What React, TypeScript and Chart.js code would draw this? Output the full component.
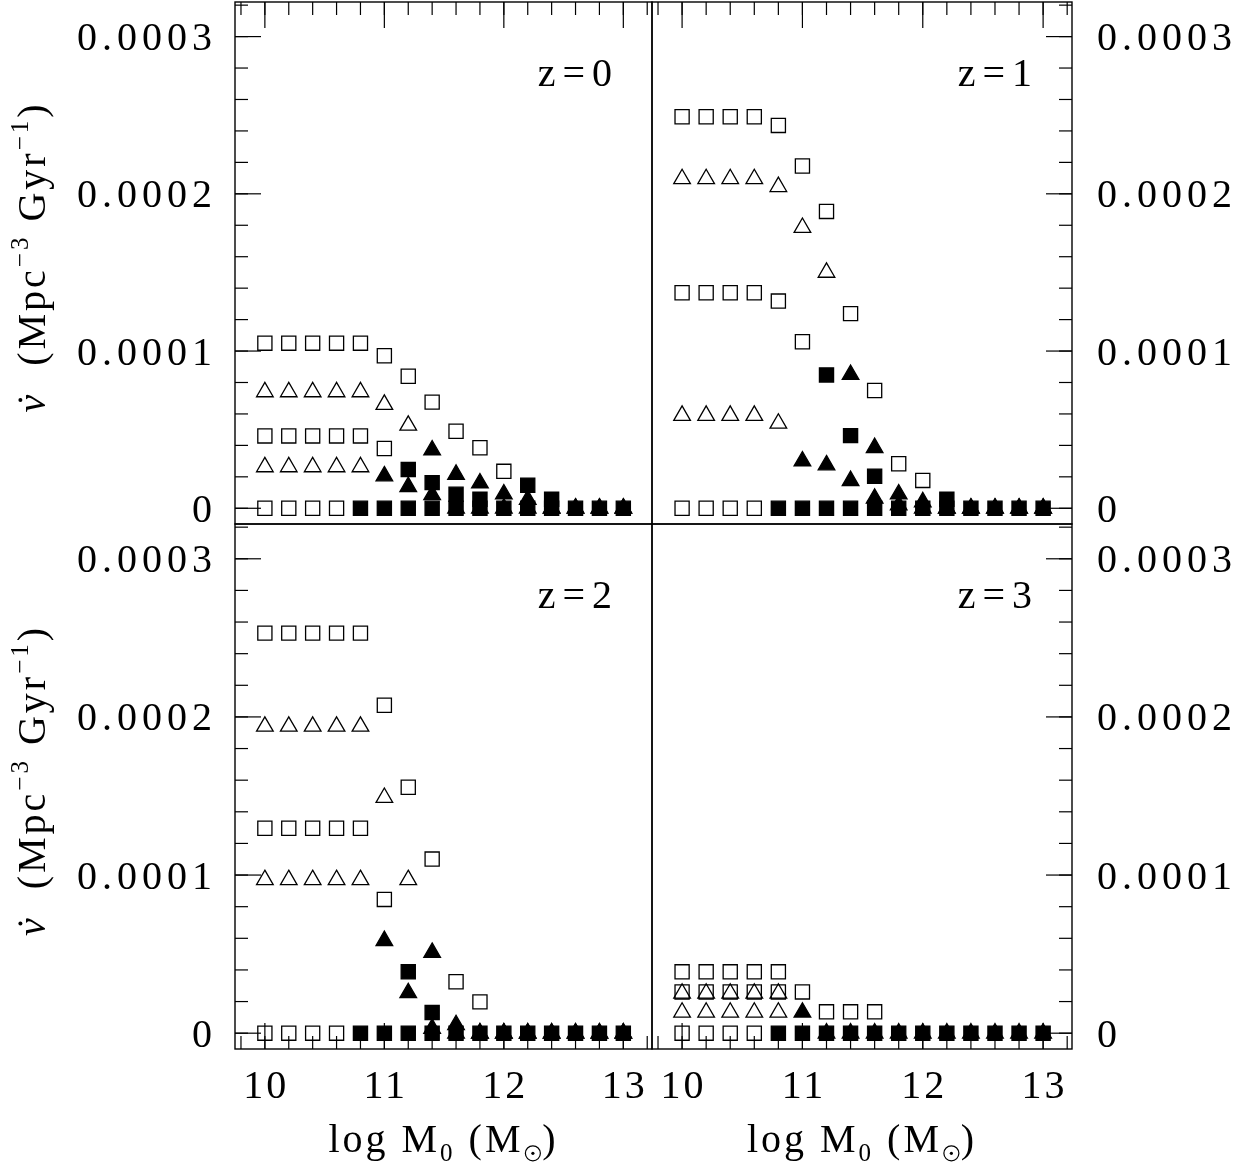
import React, { useEffect, useRef } from "react";
import { Chart, registerables } from "chart.js";
Chart.register(...registerables);

const _ = null;
const W = 1247;
const H = 1168;

// ---------- categories / ticks ----------
const MASS = [10.0, 10.2, 10.4, 10.6, 10.8, 11.0, 11.2, 11.4, 11.6, 11.8, 12.0, 12.2, 12.4, 12.6, 12.8, 13.0];
const X_MAJOR_TICKS = [10, 11, 12, 13];
const X_TICK_LABELS = ["10", "11", "12", "13"];
const X_MINOR_TICKS = [9.8, 10.0, 10.2, 10.4, 10.6, 10.8, 11.0, 11.2, 11.4, 11.6, 11.8, 12.0, 12.2, 12.4, 12.6, 12.8, 13.0, 13.2];
const Y_MAJOR_TICKS = [0, 0.0001, 0.0002, 0.0003];
const Y_TICK_LABELS = ["0", "0.0001", "0.0002", "0.0003"];
const Y_MINOR_TICKS = [0, 0.00002, 0.00004, 0.00006, 0.00008, 0.0001, 0.00012, 0.00014, 0.00016, 0.00018, 0.0002, 0.00022, 0.00024, 0.00026, 0.00028, 0.0003, 0.00032];
const PANEL_LABELS = ["z=0", "z=1", "z=2", "z=3"];
const X_TITLE = "log M";
const Y_TITLE = "(Mpc";

// ---------- z = 0 ----------
const Z0_OPEN_SQ_HI = [1.05e-4, 1.05e-4, 1.05e-4, 1.05e-4, 1.05e-4, 0.97e-4, 0.84e-4, 0.675e-4, 0.49e-4, 0.385e-4, 0.235e-4, _, _, _, _, _];
const Z0_OPEN_SQ_LO = [0.46e-4, 0.46e-4, 0.46e-4, 0.46e-4, 0.46e-4, 0.38e-4, _, _, _, _, _, _, _, _, _, _];
const Z0_OPEN_SQ_ZERO = [0, 0, 0, 0, _, _, _, _, _, _, _, _, _, _, _, _];
const Z0_OPEN_TRI_HI = [0.74e-4, 0.74e-4, 0.74e-4, 0.74e-4, 0.74e-4, 0.66e-4, 0.527e-4, _, _, _, _, _, _, _, _, _];
const Z0_OPEN_TRI_LO = [0.263e-4, 0.263e-4, 0.263e-4, 0.263e-4, 0.263e-4, _, _, _, _, _, _, _, _, _, _, _];
const Z0_FILL_SQ = [_, _, _, _, _, _, 0.247e-4, 0.163e-4, 0.089e-4, 0.057e-4, _, 0.147e-4, 0.057e-4, _, _, _];
const Z0_FILL_SQ_ZERO = [_, _, _, _, 0, 0, 0, 0, 0, 0, 0, 0, 0, 0, 0, 0];
const Z0_FILL_TRI_HI = [_, _, _, _, _, _, _, 0.37e-4, 0.215e-4, 0.16e-4, 0.09e-4, 0.055e-4, 0, 0, 0, 0];
const Z0_FILL_TRI_LO = [_, _, _, _, _, 0.205e-4, 0.137e-4, 0.085e-4, 0, 0, 0, 0, 0, 0, 0, 0];

// ---------- z = 1 ----------
const Z1_OPEN_SQ_HI = [2.49e-4, 2.49e-4, 2.49e-4, 2.49e-4, 2.435e-4, 2.177e-4, 1.888e-4, 1.238e-4, 0.749e-4, 0.283e-4, 0.177e-4, _, _, _, _, _];
const Z1_OPEN_SQ_LO = [1.371e-4, 1.371e-4, 1.371e-4, 1.371e-4, 1.318e-4, 1.059e-4, _, _, _, _, _, _, _, _, _, _];
const Z1_OPEN_SQ_ZERO = [0, 0, 0, 0, _, _, _, _, _, _, _, _, _, _, _, _];
const Z1_OPEN_TRI_HI = [2.095e-4, 2.095e-4, 2.095e-4, 2.095e-4, 2.045e-4, 1.785e-4, 1.5e-4, _, _, _, _, _, _, _, _, _];
const Z1_OPEN_TRI_LO = [0.59e-4, 0.59e-4, 0.59e-4, 0.59e-4, 0.54e-4, _, _, _, _, _, _, _, _, _, _, _];
const Z1_FILL_SQ = [_, _, _, _, _, _, 0.848e-4, 0.462e-4, 0.204e-4, _, _, 0.057e-4, _, _, _, _];
const Z1_FILL_SQ_ZERO = [_, _, _, _, 0, 0, 0, 0, 0, 0, 0, 0, 0, 0, 0, 0];
const Z1_FILL_TRI_HI = [_, _, _, _, _, _, _, 0.85e-4, 0.385e-4, 0.09e-4, 0.04e-4, 0, 0, 0, 0, 0];
const Z1_FILL_TRI_LO = [_, _, _, _, _, 0.3e-4, 0.275e-4, 0.175e-4, 0.063e-4, 0.02e-4, 0, 0, 0, 0, 0, 0];

// ---------- z = 2 ----------
const Z2_OPEN_SQ_HI = [2.53e-4, 2.53e-4, 2.53e-4, 2.53e-4, 2.53e-4, 2.074e-4, 1.555e-4, 1.101e-4, 0.325e-4, 0.198e-4, _, _, _, _, _, _];
const Z2_OPEN_SQ_LO = [1.296e-4, 1.296e-4, 1.296e-4, 1.296e-4, 1.296e-4, 0.846e-4, _, _, _, _, _, _, _, _, _, _];
const Z2_OPEN_SQ_ZERO = [0, 0, 0, 0, _, _, _, _, _, _, _, _, _, _, _, _];
const Z2_OPEN_TRI_HI = [1.94e-4, 1.94e-4, 1.94e-4, 1.94e-4, 1.94e-4, 1.49e-4, 0.97e-4, _, _, _, _, _, _, _, _, _];
const Z2_OPEN_TRI_LO = [0.97e-4, 0.97e-4, 0.97e-4, 0.97e-4, 0.97e-4, _, _, _, _, _, _, _, _, _, _, _];
const Z2_FILL_SQ = [_, _, _, _, _, _, 0.388e-4, 0.131e-4, _, _, _, _, _, _, _, _];
const Z2_FILL_SQ_ZERO = [_, _, _, _, 0, 0, 0, 0, 0, 0, 0, 0, 0, 0, 0, 0];
const Z2_FILL_TRI_HI = [_, _, _, _, _, _, _, 0.51e-4, 0.053e-4, 0, 0, 0, 0, 0, 0, 0];
const Z2_FILL_TRI_LO = [_, _, _, _, _, 0.585e-4, 0.255e-4, 0.03e-4, 0, 0, 0, 0, 0, 0, 0, 0];

// ---------- z = 3 ----------
const Z3_OPEN_SQ_HI = [0.388e-4, 0.388e-4, 0.388e-4, 0.388e-4, 0.388e-4, 0.261e-4, 0.135e-4, 0.135e-4, 0.135e-4, _, _, _, _, _, _, _];
const Z3_OPEN_SQ_LO = [0.261e-4, 0.261e-4, 0.261e-4, 0.261e-4, 0.261e-4, _, _, _, _, _, _, _, _, _, _, _];
const Z3_OPEN_SQ_ZERO = [0, 0, 0, 0, _, _, _, _, _, _, _, _, _, _, _, _];
const Z3_OPEN_TRI_HI = [0.252e-4, 0.252e-4, 0.252e-4, 0.252e-4, 0.252e-4, _, _, _, _, _, _, _, _, _, _, _];
const Z3_OPEN_TRI_LO = [0.132e-4, 0.132e-4, 0.132e-4, 0.132e-4, 0.132e-4, _, _, _, _, _, _, _, _, _, _, _];
const Z3_FILL_SQ = [_, _, _, _, _, _, _, _, _, _, _, _, _, _, _, _];
const Z3_FILL_SQ_ZERO = [_, _, _, _, 0, 0, 0, 0, 0, 0, 0, 0, 0, 0, 0, 0];
const Z3_FILL_TRI_HI = [_, _, _, _, _, 0.132e-4, 0, 0, 0, 0, 0, 0, 0, 0, 0, 0];
const Z3_FILL_TRI_LO = [_, _, _, _, _, _, _, _, _, _, _, _, _, _, _, _];

// ---------- layout ----------
const X_MIN = 9.75, X_MAX = 13.24;
const Y_MIN = -0.00001, Y_MAX = 0.000322;
const FONT = '"Liberation Serif", "Times New Roman", serif';
const FS = 40;

type Vals = (number | null)[];
interface PanelCfg {
  label: string;
  box: { left: number; top: number; right: number; bottom: number };
  ySide: "left" | "right";
  xSide: "top" | "bottom";
  openSq: Vals[];
  openTri: Vals[];
  fillSq: Vals[];
  fillTri: Vals[];
}

const PANELS: PanelCfg[] = [
  { label: PANEL_LABELS[0], box: { left: 235, top: 2, right: 652, bottom: 524 }, ySide: "left", xSide: "top",
    openSq: [Z0_OPEN_SQ_HI, Z0_OPEN_SQ_LO, Z0_OPEN_SQ_ZERO], openTri: [Z0_OPEN_TRI_HI, Z0_OPEN_TRI_LO],
    fillSq: [Z0_FILL_SQ, Z0_FILL_SQ_ZERO], fillTri: [Z0_FILL_TRI_HI, Z0_FILL_TRI_LO] },
  { label: PANEL_LABELS[1], box: { left: 652, top: 2, right: 1072, bottom: 524 }, ySide: "right", xSide: "top",
    openSq: [Z1_OPEN_SQ_HI, Z1_OPEN_SQ_LO, Z1_OPEN_SQ_ZERO], openTri: [Z1_OPEN_TRI_HI, Z1_OPEN_TRI_LO],
    fillSq: [Z1_FILL_SQ, Z1_FILL_SQ_ZERO], fillTri: [Z1_FILL_TRI_HI, Z1_FILL_TRI_LO] },
  { label: PANEL_LABELS[2], box: { left: 235, top: 524, right: 652, bottom: 1049 }, ySide: "left", xSide: "bottom",
    openSq: [Z2_OPEN_SQ_HI, Z2_OPEN_SQ_LO, Z2_OPEN_SQ_ZERO], openTri: [Z2_OPEN_TRI_HI, Z2_OPEN_TRI_LO],
    fillSq: [Z2_FILL_SQ, Z2_FILL_SQ_ZERO], fillTri: [Z2_FILL_TRI_HI, Z2_FILL_TRI_LO] },
  { label: PANEL_LABELS[3], box: { left: 652, top: 524, right: 1072, bottom: 1049 }, ySide: "right", xSide: "bottom",
    openSq: [Z3_OPEN_SQ_HI, Z3_OPEN_SQ_LO, Z3_OPEN_SQ_ZERO], openTri: [Z3_OPEN_TRI_HI, Z3_OPEN_TRI_LO],
    fillSq: [Z3_FILL_SQ, Z3_FILL_SQ_ZERO], fillTri: [Z3_FILL_TRI_HI, Z3_FILL_TRI_LO] },
];

function pts(vals: Vals) {
  const out: { x: number; y: number }[] = [];
  vals.forEach((v, i) => {
    if (v !== null) out.push({ x: MASS[i], y: v });
  });
  return out;
}

function ds(vals: Vals, style: "rect" | "triangle", filled: boolean) {
  const r = style === "rect" ? 10 : 9.6;
  return {
    data: pts(vals),
    showLine: false,
    pointStyle: style,
    pointRadius: r,
    pointHoverRadius: r,
    pointBorderColor: "#000",
    pointBackgroundColor: filled ? "#000" : "rgba(0,0,0,0)",
    pointBorderWidth: 1.3,
    pointHoverBorderWidth: 1.3,
  };
}

type Seg = { t: string; sub?: boolean; sup?: boolean; italic?: boolean; dot?: boolean; sun?: boolean };

function drawRich(ctx: CanvasRenderingContext2D, segs: Seg[], cx: number, baseline: number, size: number) {
  const small = Math.round(size * 0.62);
  const fontFor = (s: Seg) => `${s.italic ? "italic " : ""}${s.sub || s.sup ? small : size}px ${FONT}`;
  const widths = segs.map((s) => {
    if (s.sun) return small * 0.75;
    ctx.font = fontFor(s);
    return ctx.measureText(s.t).width;
  });
  const total = widths.reduce((a, b) => a + b, 0);
  let x = cx - total / 2;
  segs.forEach((s, i) => {
    const dy = s.sup ? -size * 0.42 : s.sub ? size * 0.22 : 0;
    if (s.sun) {
      const rr = small * 0.3;
      const ccx = x + widths[i] / 2;
      const ccy = baseline + dy - rr;
      ctx.beginPath();
      ctx.lineWidth = 1.2;
      ctx.arc(ccx, ccy, rr, 0, Math.PI * 2);
      ctx.stroke();
      ctx.beginPath();
      ctx.arc(ccx, ccy, 1.6, 0, Math.PI * 2);
      ctx.fill();
    } else {
      ctx.font = fontFor(s);
      ctx.fillText(s.t, x, baseline + dy);
      if (s.dot) {
        ctx.beginPath();
        ctx.arc(x + widths[i] * 0.6, baseline - size * 0.62, size * 0.05, 0, Math.PI * 2);
        ctx.fill();
      }
    }
    x += widths[i];
  });
}

const decor = {
  id: "decor",
  afterDraw(chart: any, _args: any, opts: any) {
    const cfg: PanelCfg = opts.cfg;
    const { ctx, chartArea: a } = chart;
    const xs = chart.scales.x;
    const ys = chart.scales.y;
    ctx.save();
    ctx.strokeStyle = "#000";
    ctx.fillStyle = "#000";
    ctx.lineWidth = 1.4;
    ctx.strokeRect(a.left, a.top, a.right - a.left, a.bottom - a.top);

    const line = (x1: number, y1: number, x2: number, y2: number) => {
      ctx.beginPath();
      ctx.moveTo(x1, y1);
      ctx.lineTo(x2, y2);
      ctx.stroke();
    };
    ctx.lineWidth = 1.2;
    // y ticks
    const yEdge = cfg.ySide === "left" ? a.left : a.right;
    const yd = cfg.ySide === "left" ? 1 : -1;
    Y_MINOR_TICKS.forEach((v) => {
      const y = ys.getPixelForValue(v);
      if (y >= a.top - 0.5 && y <= a.bottom + 0.5) line(yEdge, y, yEdge + yd * 13, y);
    });
    Y_MAJOR_TICKS.forEach((v) => {
      const y = ys.getPixelForValue(v);
      line(yEdge, y, yEdge + yd * 26, y);
    });
    // x ticks
    const xEdge = cfg.xSide === "top" ? a.top : a.bottom;
    const xd = cfg.xSide === "top" ? 1 : -1;
    X_MINOR_TICKS.forEach((v) => {
      const x = xs.getPixelForValue(v);
      if (x >= a.left && x <= a.right) line(x, xEdge, x, xEdge + xd * 13);
    });
    X_MAJOR_TICKS.forEach((v) => {
      const x = xs.getPixelForValue(v);
      line(x, xEdge, x, xEdge + xd * 26);
    });

    // text
    ctx.font = `${FS}px ${FONT}`;
    (ctx as any).letterSpacing = "5px";
    ctx.textBaseline = "alphabetic";
    const digitHalf = FS * 0.338;
    Y_MAJOR_TICKS.forEach((v, i) => {
      const y = ys.getPixelForValue(v) + digitHalf;
      if (cfg.ySide === "left") {
        ctx.textAlign = "right";
        ctx.fillText(Y_TICK_LABELS[i], a.left - 18, y);
      } else {
        ctx.textAlign = "left";
        ctx.fillText(Y_TICK_LABELS[i], a.right + 25, y);
      }
    });
    if (cfg.xSide === "bottom") {
      (ctx as any).letterSpacing = "3px";
      ctx.textAlign = "center";
      X_MAJOR_TICKS.forEach((v, i) => {
        ctx.fillText(X_TICK_LABELS[i], xs.getPixelForValue(v) + 1.5, 1098);
      });
      ctx.textAlign = "left";
      drawRich(ctx, [{ t: X_TITLE }, { t: "0", sub: true }, { t: " (M" }, { t: "", sub: true, sun: true }, { t: ")" }],
        (a.left + a.right) / 2, 1152, FS);
    }
    // panel label
    (ctx as any).letterSpacing = "7px";
    ctx.textAlign = "right";
    ctx.font = `${FS}px ${FONT}`;
    ctx.fillText(cfg.label, a.right - 33, a.top + 84);

    // y title
    if (cfg.ySide === "left") {
      (ctx as any).letterSpacing = "3px";
      ctx.save();
      ctx.translate(32, (a.top + a.bottom) / 2 - 6);
      ctx.rotate(-Math.PI / 2);
      ctx.textAlign = "left";
      drawRich(ctx, [{ t: "ν", italic: true, dot: true }, { t: "  " + Y_TITLE }, { t: "−3", sup: true }, { t: " Gyr" }, { t: "−1", sup: true }, { t: ")" }],
        0, FS * 0.33, FS);
      ctx.restore();
    }
    ctx.restore();
  },
};

function buildConfig(cfg: PanelCfg): any {
  const datasets = [
    ...cfg.openSq.map((v) => ds(v, "rect", false)),
    ...cfg.openTri.map((v) => ds(v, "triangle", false)),
    ...cfg.fillSq.map((v) => ds(v, "rect", true)),
    ...cfg.fillTri.map((v) => ds(v, "triangle", true)),
  ];
  return {
    type: "scatter",
    data: { datasets },
    plugins: [decor],
    options: {
      responsive: false,
      animation: false,
      events: [],
      layout: {
        autoPadding: false,
        padding: { left: cfg.box.left, top: cfg.box.top, right: W - cfg.box.right, bottom: H - cfg.box.bottom },
      },
      scales: {
        x: { type: "linear", min: X_MIN, max: X_MAX, display: false },
        y: { type: "linear", min: Y_MIN, max: Y_MAX, display: false },
      },
      plugins: {
        legend: { display: false },
        tooltip: { enabled: false },
        decor: { cfg },
      },
    },
  };
}

function Panel({ cfg }: { cfg: PanelCfg }) {
  const ref = useRef<HTMLCanvasElement>(null);
  useEffect(() => {
    const chart = new Chart(ref.current as HTMLCanvasElement, buildConfig(cfg));
    return () => chart.destroy();
  }, [cfg]);
  return <canvas ref={ref} width={W} height={H} style={{ position: "absolute", left: 0, top: 0 }} />;
}

export default function App() {
  return (
    <div style={{ position: "fixed", left: 0, top: 0, width: W, height: H, background: "#fff", overflow: "hidden" }}>
      {PANELS.map((p, i) => (
        <Panel key={i} cfg={p} />
      ))}
    </div>
  );
}
